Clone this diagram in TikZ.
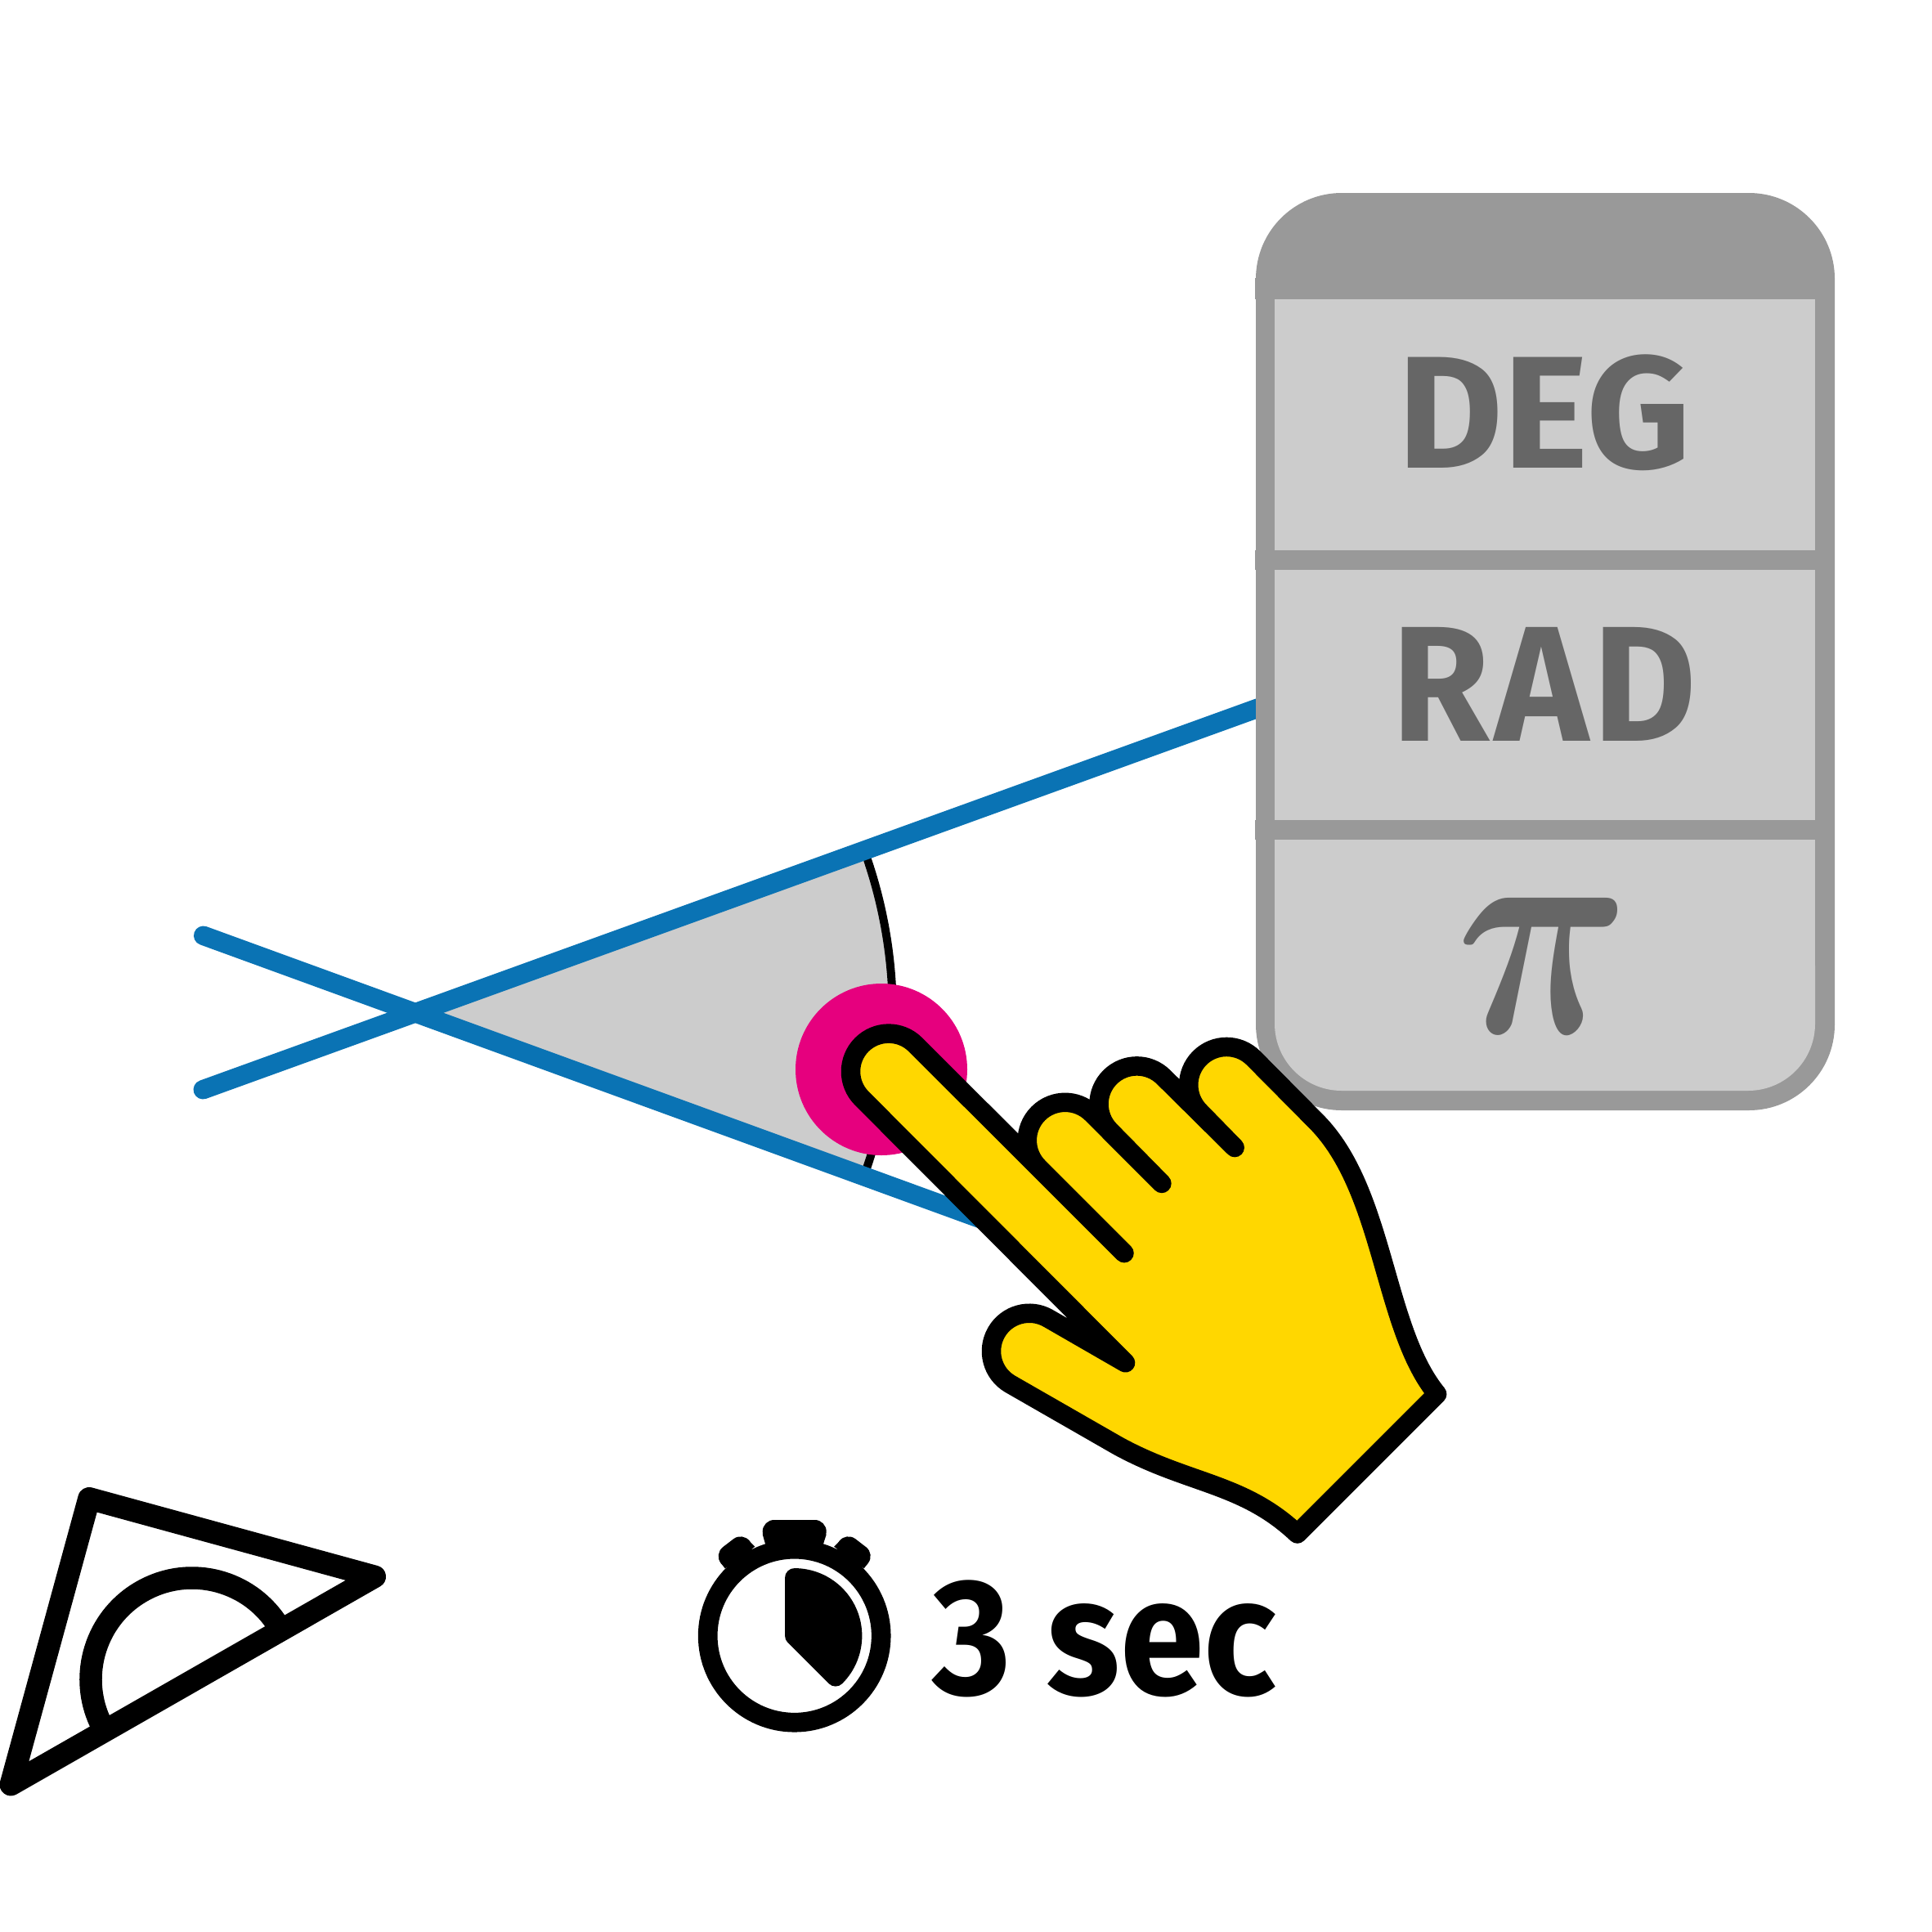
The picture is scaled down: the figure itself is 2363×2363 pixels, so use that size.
\documentclass[tikz,border=0pt]{standalone}
\usepackage{fontspec}
\setmainfont[Numbers=Lining]{Fira Sans}
\definecolor{panelgrey}{HTML}{999999}
\definecolor{cellgrey}{HTML}{CCCCCC}
\definecolor{textgrey}{HTML}{666666}
\definecolor{barblue}{HTML}{0A73B4}
\definecolor{handyellow}{HTML}{FFD700}
\definecolor{dotmagenta}{HTML}{E6007E}
\tikzset{
  bluebar/.style={draw=barblue,line width=23.5pt,line cap=round},
  handline/.style={draw=black,fill=handyellow,line width=23.5pt,line join=round,line cap=round},
  iconline/.style={draw=black,line width=27.5pt,line join=round},
  cellbox/.style={fill=cellgrey,draw=none},
  lab/.style={inner sep=0pt,outer sep=0pt,text=textgrey},
  knob/.style={draw=black,line width=28pt,line cap=round}
}
\newcommand{\fitbox}[3]{\resizebox*{#1pt}{#2pt}{#3}}
\begin{document}
\begin{tikzpicture}[x=1pt,y=-1pt]
\useasboundingbox (0,0) rectangle (2363,2363);
\fill[white] (0,0) rectangle (2363,2363);
% angle
\coordinate (apex) at (507.3,1238.7);
\fill[cellgrey] (apex) -- ++(-20:584.5) arc[start angle=-20,end angle=20,radius=584.5] -- cycle;
\draw[black,line width=10pt] (apex) ++(-20:584.5) arc[start angle=-20,end angle=20,radius=584.5];
\coordinate (la) at (248.7,1144.3);
\coordinate (lb) at (1225,1500);
\coordinate (ma) at (248.3,1332.7);
\coordinate (mb) at (1560,858.3);
\draw[bluebar] (la) -- (lb);
\draw[bluebar] (ma) -- (mb);
% panel
\fill[panelgrey,rounded corners=105pt] (1536,236) rectangle (2244,1358);
\fill[panelgrey] (1535.3,340) rectangle (2244,366);
\fill[panelgrey] (1535.3,673) rectangle (2244,696.5);
\fill[panelgrey] (1535.3,1003) rectangle (2244,1026.5);
\fill[cellbox] (1559,366) rectangle (2220,673);
\fill[cellbox] (1559,696.5) rectangle (2220,1003);
\fill[cellbox,rounded corners=82pt] (1559,1100) rectangle (2220,1334);
\fill[cellbox] (1559,1026.5) rectangle (2220,1200);
\node[lab] (deg) at (1888.5,505) {\fitbox{358}{142}{\bfseries DEG}};
\node[lab] (rad) at (1889,836.5) {\fitbox{372}{139}{\bfseries\addfontfeature{LetterSpace=3}RAD}};
\node[lab] (pi) at (1888,1180.5) {\fitbox{212}{165}{\boldmath$\pi$}};
% magenta dot
\fill[dotmagenta] (1078,1308) circle[radius=105];
% hand
\begin{scope}[shift={(1000,1150)},x=0.5102pt,y=-0.5102pt]
\draw[handline] (1485,1088) -- (1150,1423)
  .. controls (1020,1300) and (890,1305) .. (720,1212)
  -- (462,1064) arc[start angle=120,end angle=300,radius=91]
  -- (738,1013) -- (106,379) arc[start angle=135,end angle=315,radius=91]
  -- (735,750) -- (529,544) arc[start angle=135,end angle=315,radius=91]
  -- (825,583) -- (701,457) arc[start angle=135,end angle=315,radius=91]
  -- (1000,497) -- (916,411) arc[start angle=135,end angle=315,radius=91]
  -- (1195,434) .. controls (1360,600) and (1355,930) .. (1485,1088) -- cycle;
\end{scope}
% protractor
\coordinate (pa) at (109,1832.7);
\coordinate (pb) at (458.3,1928.3);
\coordinate (pc) at (13.3,2182.7);
\draw[iconline] (pa) -- (pb) -- (pc) -- cycle;
\draw[iconline] (342.4,1992) arc[start angle=-30,end angle=-210,radius=124];
% stopwatch
\coordinate (clk) at (971.7,2000.7);
\draw[black,line width=23.7pt] (clk) circle[radius=106];
\draw[knob] (946.7,1873.3) -- (996.7,1873.3);
\fill[black] (932.7,1876.7) -- (936,1888.3) -- (936,1900) -- (1007,1900) -- (1007,1888.3) -- (1010.7,1876.7) -- cycle;
\draw[knob] (892.7,1903.3) -- (905.7,1893.3);
\draw[knob] (1050.7,1903.3) -- (1037.7,1893.3);
\fill[black] (881.7,1911.7) -- (886.7,1918.3) -- (923.3,1891.7) -- (915,1883.3) -- cycle;
\fill[black] (1061.7,1911.7) -- (1056.7,1918.3) -- (1020.1,1891.7) -- (1028.4,1883.3) -- cycle;
\filldraw[line width=23.3pt,line join=round] (clk) -- ++(45:71) arc[start angle=45,end angle=-90,radius=71] -- cycle;
\node[inner sep=0pt,outer sep=0pt] (sec) at (1351,2004.5) {\fitbox{420}{143}{\bfseries 3 sec}};
\end{tikzpicture}
\end{document}
